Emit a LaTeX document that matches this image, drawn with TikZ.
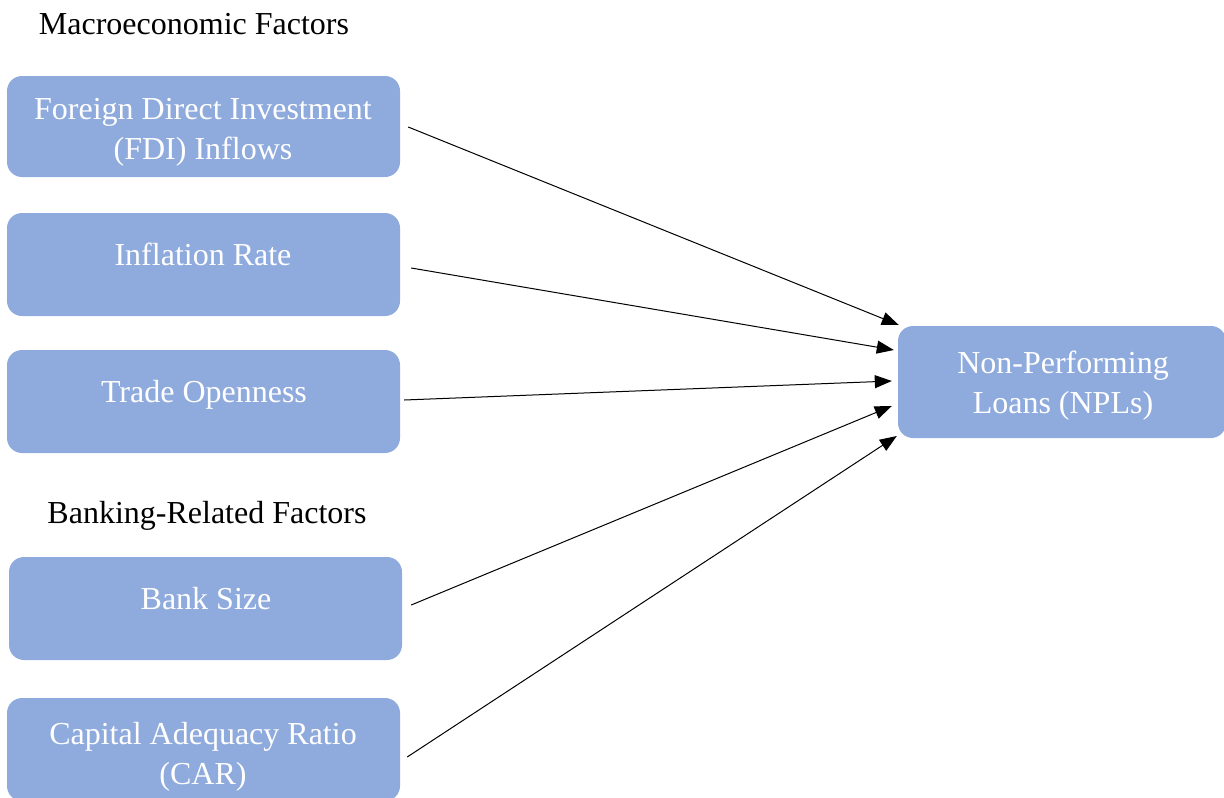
\documentclass[tikz,border=0pt]{standalone}
\usepackage{fontspec}
\setmainfont{Liberation Serif}
\usetikzlibrary{arrows.meta,calc}
\definecolor{boxblue}{HTML}{8FAADC}
\tikzset{
  box/.style={rectangle, rounded corners=15pt, fill=boxblue, draw=none, inner sep=0pt},
  txt/.style={text=white, align=center, inner sep=0pt, font=\fontsize{32}{40}\selectfont},
  head/.style={text=black, inner sep=0pt, font=\fontsize{32}{40}\selectfont},
  arr/.style={-{Triangle[length=17pt,width=13pt]}, line width=1pt, black}
}
\begin{document}
\begin{tikzpicture}[x=1pt,y=-1pt]
\useasboundingbox (0,0) rectangle (1224,798);
% headings
\node[head] (hmacro) at (194,24) {Macroeconomic Factors};
\node[head] (hbank) at (207,516) {Banking-Related Factors};
% boxes
\node[box, minimum width=393pt, minimum height=101pt] (fdi) at (203.5,126.5) {};
\node[box, minimum width=393pt, minimum height=103pt] (infl) at (203.5,264.5) {};
\node[box, minimum width=393pt, minimum height=103pt] (trade) at (203.5,401.5) {};
\node[box, minimum width=393pt, minimum height=103pt] (bank) at (205.5,608.5) {};
\node[box, minimum width=393pt, minimum height=103pt] (car) at (203.5,749.5) {};
\node[box, minimum width=328pt, minimum height=112pt] (npl) at (1062,382) {};
% texts
\node[txt] (tfdi) at (203,132.5) {Foreign Direct Investment\\(FDI) Inflows};
\node[txt] (tinfl) at (203,254) {Inflation Rate};
\node[txt] (ttrade) at (204,395) {Trade Openness};
\node[txt] (tbank) at (206,598.5) {Bank Size};
\node[txt] (tcar) at (203,757) {Capital Adequacy Ratio\\(CAR)};
\node[txt] (tnpl) at (1063,385.5) {Non-Performing\\Loans (NPLs)};
% arrows
\draw[arr] ($(fdi.east)+(8,0.5)$) -- ($(npl.west)+(1,-57)$);
\draw[arr] ($(infl.east)+(11,3.5)$) -- ($(npl.west)+(-4,-32)$);
\draw[arr] ($(trade.east)+(4,-1.5)$) -- ($(npl.west)+(-6,-1)$);
\draw[arr] ($(bank.east)+(9,-3.5)$) -- ($(npl.west)+(-6,24)$);
\draw[arr] ($(car.east)+(7,7.5)$) -- ($(npl.west)+(-1,54)$);
\end{tikzpicture}
\end{document}
